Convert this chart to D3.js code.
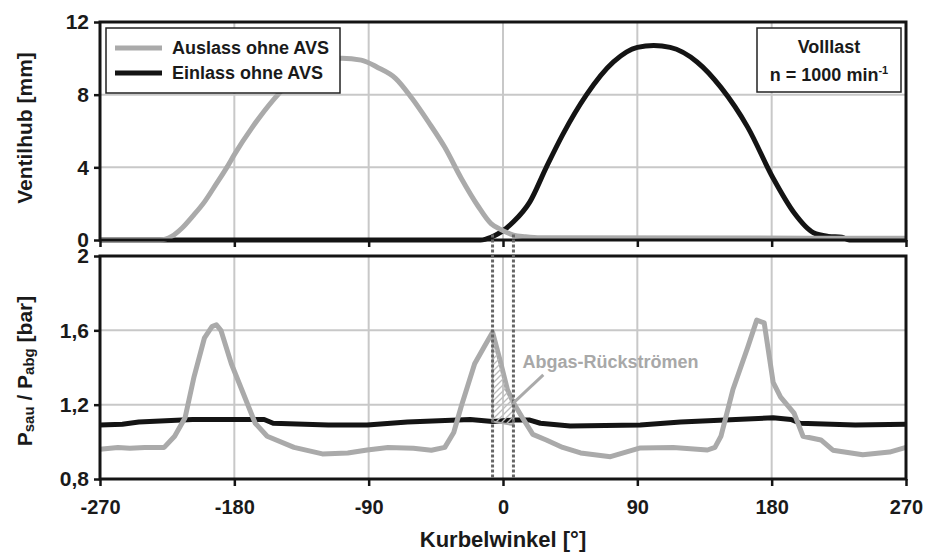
<!DOCTYPE html>
<html>
<head>
<meta charset="utf-8">
<script src="https://cdn.jsdelivr.net/npm/d3@7"></script>
<style>
body{margin:0;background:#fff;}
svg text{font-family:"Liberation Sans",Arial,sans-serif;font-weight:bold;fill:#1a1a1a;}
</style>
</head>
<body>
<svg id="chart" width="927" height="554"></svg>
<script>
//Données
var xTicks = [-270,-180,-90,0,90,180,270];
var hubTicks = [0,4,8,12];
var druckTicks = [0.8,1.2,1.6,2];

var auslassWinkel = [-270,-230,-222,-215,-208,-200,-192,-185,-180,-168,-153,-140,-128,-118,-108,-95,-84,-72,-61,-50,-39,-28,-17,-8,-2,7,15,25,270];
var auslassHub    = [0,0,0.2,0.66,1.3,2.1,3.1,4.0,4.7,6.2,7.8,8.9,9.6,9.9,10.0,9.9,9.5,8.9,7.8,6.5,5.1,3.4,1.9,0.9,0.6,0.27,0.18,0.12,0.1];

var einlassWinkel = [-270,-15,-8,-2,7,18,29,40,56,74,90,101,112,130,146,164,181,195,208,218,227,232,270];
var einlassHub    = [0,0,0.15,0.4,1.0,2.1,4.0,5.8,8.0,9.8,10.6,10.7,10.6,9.8,8.4,6.2,3.4,1.5,0.4,0.2,0.15,0,0];

var abgasWinkel = [-270,-258,-250,-240,-227,-220,-213,-207,-200,-195,-192,-189,-182,-175,-166,-158,-140,-121,-104,-91,-77,-60,-48,-39,-33,-28,-19,-12,-7,-2,3,7,13,20,29,40,52,72,92,114,137,142,146,154,164,170,175,181,186,195,201,213,221,241,259,270];
var abgasDruck  = [0.96,0.97,0.965,0.97,0.97,1.03,1.13,1.35,1.56,1.62,1.63,1.60,1.42,1.28,1.10,1.03,0.97,0.935,0.94,0.956,0.97,0.965,0.955,0.97,1.05,1.19,1.42,1.52,1.59,1.44,1.28,1.21,1.13,1.04,1.01,0.97,0.94,0.92,0.967,0.97,0.956,0.97,1.03,1.28,1.51,1.655,1.64,1.32,1.24,1.155,1.03,1.01,0.955,0.93,0.945,0.97];

var saugWinkel = [-270,-255,-244,-208,-180,-160,-154,-117,-91,-64,-22,-7,7,18,25,45,92,119,156,181,193,199,236,270];
var saugDruck  = [1.09,1.095,1.107,1.12,1.12,1.12,1.10,1.09,1.09,1.107,1.12,1.11,1.117,1.117,1.10,1.085,1.09,1.107,1.12,1.13,1.12,1.10,1.09,1.095];

var ruckstromGrenzen = [-7,7];
var ruckstromBasis = [1.11,1.09];

var grau = "#aaaaaa";
var schwarz = "#141414";

var svg = d3.select("#chart");

var x = d3.scaleLinear().domain([-270,270]).range([100,906]);
var yHub = d3.scaleLinear().domain([0,12]).range([240,22]);
var yDruck = d3.scaleLinear().domain([0.8,2]).range([479,256]);

function zip(a,b){ return a.map(function(d,i){ return [d,b[i]]; }); }

//Grille
function grille(y, ticks){
  var g = svg.append("g").attr("stroke","#c8c8c8").attr("stroke-width",2);
  g.selectAll("line.v").data(xTicks.slice(1,-1)).enter().append("line")
    .attr("x1",function(d){return x(d);}).attr("x2",function(d){return x(d);})
    .attr("y1",y.range()[0]).attr("y2",y.range()[1]);
  g.selectAll("line.h").data(ticks.slice(1,-1)).enter().append("line")
    .attr("x1",x(-270)).attr("x2",x(270))
    .attr("y1",function(d){return y(d);}).attr("y2",function(d){return y(d);});
}
grille(yHub, hubTicks);
grille(yDruck, druckTicks);

//Courbes
var lineHub = d3.line().x(function(d){return x(d[0]);}).y(function(d){return yHub(d[1]);}).curve(d3.curveMonotoneX);
var lineDruck = d3.line().x(function(d){return x(d[0]);}).y(function(d){return yDruck(d[1]);});

svg.append("path").datum(zip(einlassWinkel,einlassHub)).attr("d",lineHub)
  .attr("fill","none").attr("stroke",schwarz).attr("stroke-width",5).attr("stroke-linejoin","round");
svg.append("path").datum(zip(auslassWinkel,auslassHub)).attr("d",lineHub)
  .attr("fill","none").attr("stroke",grau).attr("stroke-width",5).attr("stroke-linejoin","round");

svg.append("path").datum(zip(saugWinkel,saugDruck)).attr("d",lineDruck)
  .attr("fill","none").attr("stroke",schwarz).attr("stroke-width",5).attr("stroke-linejoin","round");
svg.append("path").datum(zip(abgasWinkel,abgasDruck)).attr("d",lineDruck)
  .attr("fill","none").attr("stroke",grau).attr("stroke-width",5).attr("stroke-linejoin","round");

//Zone hachurée
var defs = svg.append("defs");
var pat = defs.append("pattern").attr("id","hatch").attr("patternUnits","userSpaceOnUse")
  .attr("width",6).attr("height",6);
pat.append("path").attr("d","M0,6 L6,0 M-1,1 L1,-1 M5,7 L7,5")
  .attr("stroke","#bdbdbd").attr("stroke-width",1.3);

var zone = zip(abgasWinkel,abgasDruck).filter(function(d){ return d[0] >= ruckstromGrenzen[0] && d[0] <= ruckstromGrenzen[1]; });
zone.push([ruckstromGrenzen[1],ruckstromBasis[1]]);
zone.push([ruckstromGrenzen[0],ruckstromBasis[0]]);
svg.append("path").datum(zone).attr("d",lineDruck.curve(d3.curveLinearClosed))
  .attr("fill","url(#hatch)").attr("stroke",grau).attr("stroke-width",2);

//Cadres et axes
function cadre(y){
  svg.append("rect").attr("x",x(-270)).attr("y",y.range()[1])
    .attr("width",x(270)-x(-270)).attr("height",y.range()[0]-y.range()[1])
    .attr("fill","none").attr("stroke",schwarz).attr("stroke-width",3);
}
cadre(yHub);
cadre(yDruck);

function styleAxe(g, size){
  g.select(".domain").remove();
  g.selectAll(".tick line").attr("stroke",schwarz).attr("stroke-width",2.5);
  g.selectAll(".tick text").attr("fill","#1a1a1a").style("font-size",size+"px");
}

var komma = function(d){ return d === 2 ? "2" : d3.format(".1f")(d).replace(".",","); };

svg.append("g").attr("transform","translate("+x(-270)+",0)")
  .call(d3.axisLeft(yHub).tickValues(hubTicks).tickSize(6).tickPadding(5))
  .call(function(g){ styleAxe(g,21); });
svg.append("g").attr("transform","translate("+x(-270)+",0)")
  .call(d3.axisLeft(yDruck).tickValues(druckTicks).tickSize(6).tickPadding(5).tickFormat(komma))
  .call(function(g){ styleAxe(g,21); });

svg.append("g").attr("transform","translate(0,"+yHub(0)+")")
  .call(d3.axisBottom(x).tickValues(xTicks).tickSize(7).tickFormat(""))
  .call(function(g){ styleAxe(g,20); });
svg.append("g").attr("transform","translate(0,"+yDruck(0.8)+")")
  .call(d3.axisBottom(x).tickValues(xTicks).tickSize(7).tickPadding(14).tickFormat(function(d){ return String(d); }))
  .call(function(g){ styleAxe(g,20); });

//Lignes pointillées
svg.selectAll("line.marque").data(ruckstromGrenzen).enter().append("line")
  .attr("x1",function(d){return x(d);}).attr("x2",function(d){return x(d);})
  .attr("y1",yHub(0.3)).attr("y2",yDruck(0.8))
  .attr("stroke","#666").attr("stroke-width",3).attr("stroke-dasharray","3,2");

//Annotation
svg.append("line").attr("x1",x(27)).attr("y1",yDruck(1.36)).attr("x2",x(7)).attr("y2",yDruck(1.21))
  .attr("stroke",grau).attr("stroke-width",3);
svg.append("text").attr("x",x(13)).attr("y",yDruck(1.4)).style("font-size","18px")
  .style("fill","#a8a8a8").text("Abgas-Rückströmen");

//Titres des axes
svg.append("text").attr("x",x(0)).attr("y",547).attr("text-anchor","middle")
  .style("font-size","22px").text("Kurbelwinkel [°]");
svg.append("text").attr("transform","translate(32,128) rotate(-90)").attr("text-anchor","middle")
  .style("font-size","21px").text("Ventilhub [mm]");
var ty = svg.append("text").attr("transform","translate(32,371) rotate(-90)").attr("text-anchor","middle")
  .style("font-size","21px");
ty.append("tspan").text("P");
ty.append("tspan").style("font-size","15px").attr("dy",2).text("sau");
ty.append("tspan").attr("dy",-2).text(" / P");
ty.append("tspan").style("font-size","15px").attr("dy",2).text("abg");
ty.append("tspan").attr("dy",-2).text(" [bar]");

//Légende
var leg = svg.append("g");
leg.append("rect").attr("x",106).attr("y",28).attr("width",234).attr("height",65)
  .attr("fill","#fff").attr("stroke","#222").attr("stroke-width",1.5);
var legende = [["Auslass ohne AVS",grau],["Einlass ohne AVS",schwarz]];
legende.forEach(function(d,i){
  leg.append("line").attr("x1",115).attr("x2",162).attr("y1",48+i*25).attr("y2",48+i*25)
    .attr("stroke",d[1]).attr("stroke-width",5);
  leg.append("text").attr("x",172).attr("y",54+i*25).style("font-size","18px").text(d[0]);
});

//Encadré Volllast
var box = svg.append("g");
box.append("rect").attr("x",757).attr("y",28).attr("width",144).attr("height",64)
  .attr("fill","#fff").attr("stroke","#222").attr("stroke-width",1.5);
box.append("text").attr("x",829).attr("y",53).attr("text-anchor","middle").style("font-size","18px").text("Volllast");
var nt = box.append("text").attr("x",829).attr("y",81).attr("text-anchor","middle").style("font-size","18px");
nt.append("tspan").text("n = 1000 min");
nt.append("tspan").style("font-size","11px").attr("dy",-7).text("-1");
</script>
</body>
</html>
